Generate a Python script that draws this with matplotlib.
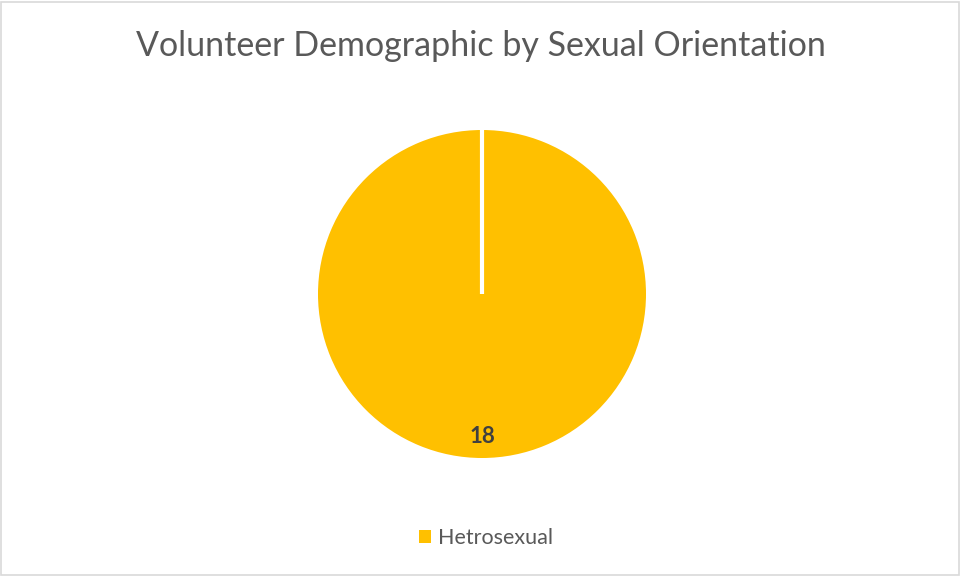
import numpy as np
import matplotlib.pyplot as plt
from matplotlib.patches import Rectangle

labels = ['Hetrosexual']
counts = [18]
colors = ['#FFC000']

plt.rcParams['font.family'] = ['Lato', 'DejaVu Sans']

fig = plt.figure(figsize=(9.61, 5.76), dpi=100)
fig.patch.set_facecolor('white')

# border around the chart area
fig.patches.append(Rectangle((0.001, 0.002), 0.997, 0.995, transform=fig.transFigure,
                             fill=False, edgecolor='#D9D9D9', linewidth=1.2))

ax = fig.add_axes([318 / 961, 118 / 576, 328 / 961, 328 / 576])
start = 90
wedges, texts = ax.pie(counts, colors=colors, startangle=start, counterclock=False,
                       labels=[str(c) for c in counts], labeldistance=0.87,
                       textprops=dict(color='#404040', fontsize=16, fontweight='bold'),
                       wedgeprops=dict(edgecolor='white', linewidth=0))
# slice boundary line (Excel draws it even for a single 100% slice)
a = np.deg2rad(start)
ax.plot([0, np.cos(a)], [0, np.sin(a)], color='white', linewidth=3, solid_capstyle='butt')
for t in texts:
    t.set_position((0, -0.87))
    t.set_ha('center')
    t.set_va('center')
ax.set_xlim(-1, 1)
ax.set_ylim(-1, 1)
ax.set_aspect('equal')

fig.text(0.5, 1 - 46 / 576, 'Volunteer Demographic by Sexual Orientation',
         ha='center', va='center', fontsize=24.5, color='#595959')

fig.legend(wedges, labels, loc='center', bbox_to_anchor=(486 / 961, 1 - 538 / 576),
           frameon=False, fontsize=15.5, labelcolor='#595959', handlelength=0.55,
           handleheight=0.55, handletextpad=0.3)

fig.savefig('out.png', dpi=100, facecolor='white')
